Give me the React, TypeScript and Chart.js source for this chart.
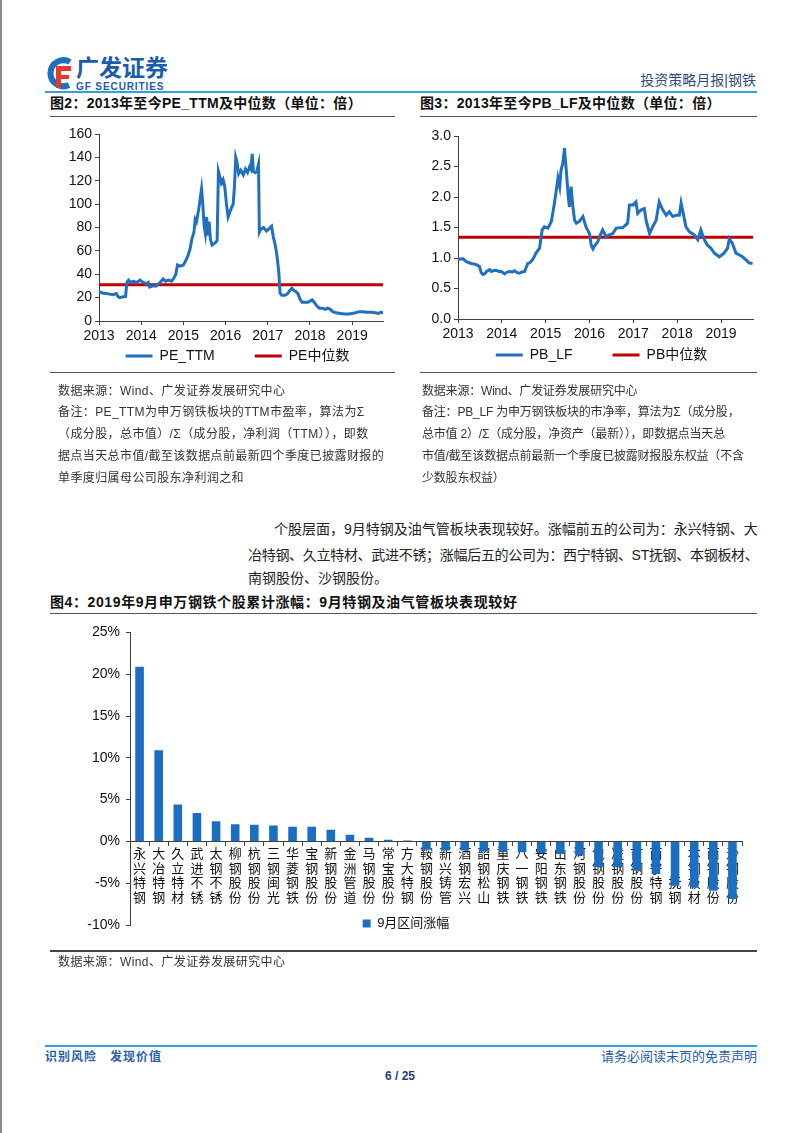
import React, { useEffect, useRef } from 'react';
import { Chart, registerables } from 'chart.js';
Chart.register(...registerables);

const FONT = '"Liberation Sans", "Noto Sans CJK SC", sans-serif';
Chart.defaults.font.family = FONT;
Chart.defaults.color = '#111';

const BLUE = '#1f70c1';
const RED = '#c00000';
const BAR = '#1b6ec2';
const AXIS = '#404040';
const X_MIN = 2013;
const X_MAX = 2019.73;

const yearTicks = [2013, 2014, 2015, 2016, 2017, 2018, 2019];

// PE_TTM (decimal year, value)
const peYears = [
  2013.00, 2013.08, 2013.17, 2013.25, 2013.33, 2013.41, 2013.45, 2013.49, 2013.55, 2013.63,
  2013.66, 2013.70, 2013.75, 2013.81, 2013.90, 2013.97, 2014.05, 2014.12, 2014.17, 2014.20,
  2014.28, 2014.36, 2014.45, 2014.52, 2014.58, 2014.65, 2014.72, 2014.78, 2014.82, 2014.86,
  2014.92, 2015.00, 2015.06, 2015.11, 2015.16, 2015.20, 2015.25, 2015.28, 2015.31, 2015.36,
  2015.40, 2015.43, 2015.46, 2015.49, 2015.52, 2015.55, 2015.58, 2015.61, 2015.64, 2015.68,
  2015.72, 2015.76, 2015.80, 2015.83, 2015.86, 2015.90, 2015.94, 2015.98, 2016.02, 2016.06,
  2016.10, 2016.14, 2016.18, 2016.21, 2016.24, 2016.27, 2016.31, 2016.36, 2016.42, 2016.47,
  2016.52, 2016.57, 2016.60, 2016.63, 2016.66, 2016.70, 2016.74, 2016.78, 2016.80, 2016.84,
  2016.90, 2016.97, 2017.03, 2017.09, 2017.13, 2017.17, 2017.20, 2017.23, 2017.26, 2017.29,
  2017.33, 2017.40, 2017.46, 2017.52, 2017.57, 2017.62, 2017.67, 2017.72, 2017.76, 2017.81,
  2017.88, 2017.95, 2018.00, 2018.05, 2018.10, 2018.16, 2018.22, 2018.30, 2018.36, 2018.42,
  2018.48, 2018.54, 2018.62, 2018.72, 2018.82, 2018.92, 2019.00, 2019.08, 2019.16, 2019.25,
  2019.35, 2019.45, 2019.55, 2019.62, 2019.68, 2019.73,
];
const peValues = [
  25, 24, 23.5, 23, 22.5, 23.5, 21, 20, 20.5, 21,
  33, 35, 33, 34, 33, 35, 33, 32, 33, 29,
  30, 30, 33, 36, 34, 35, 34, 37, 40, 48,
  47, 48, 52, 56, 62, 70, 76, 87, 85, 95,
  105, 113, 100, 82, 75, 89, 73, 85, 70, 65,
  66, 67, 69, 128, 124, 118, 121, 115, 100, 89,
  93, 97, 100, 115, 140, 136, 126, 129, 125, 130,
  127, 132, 130, 143, 128, 127, 128, 134, 76, 79,
  80, 77, 79, 81, 72, 66, 60, 52, 42, 24,
  22, 22, 23, 26, 28, 26, 25, 23, 19, 16,
  16, 16, 17, 18, 16, 13, 11, 11, 10, 11,
  10, 8, 7, 6.5, 6, 6, 6.5, 7, 8, 8,
  7.5, 7.5, 7, 6.5, 7.5, 7,
];
const peMedian = 31;

// PB_LF (decimal year, value)
const pbYears = [
  2013.00, 2013.06, 2013.11, 2013.19, 2013.30, 2013.38, 2013.42, 2013.49, 2013.53, 2013.57,
  2013.61, 2013.65, 2013.72, 2013.76, 2013.80, 2013.87, 2013.93, 2013.99, 2014.06, 2014.12,
  2014.18, 2014.24, 2014.29, 2014.35, 2014.40, 2014.46, 2014.52, 2014.59, 2014.65, 2014.71,
  2014.78, 2014.86, 2014.92, 2014.97, 2015.05, 2015.13, 2015.20, 2015.24, 2015.28, 2015.32,
  2015.35, 2015.39, 2015.43, 2015.45, 2015.47, 2015.51, 2015.54, 2015.58, 2015.62, 2015.66,
  2015.70, 2015.77, 2015.85, 2015.92, 2016.00, 2016.04, 2016.08, 2016.11, 2016.19, 2016.26,
  2016.30, 2016.38, 2016.45, 2016.53, 2016.61, 2016.76, 2016.87, 2016.91, 2016.99, 2017.06,
  2017.10, 2017.18, 2017.25, 2017.29, 2017.37, 2017.44, 2017.52, 2017.59, 2017.67, 2017.75,
  2017.82, 2017.90, 2017.97, 2018.05, 2018.09, 2018.13, 2018.20, 2018.28, 2018.39, 2018.47,
  2018.54, 2018.62, 2018.69, 2018.77, 2018.85, 2018.96, 2019.07, 2019.15, 2019.19, 2019.26,
  2019.34, 2019.42, 2019.49, 2019.57, 2019.64, 2019.72,
];
const pbValues = [
  0.99, 0.98, 0.99, 0.94, 0.91, 0.90, 0.89, 0.86, 0.76, 0.73,
  0.74, 0.78, 0.81, 0.78, 0.79, 0.80, 0.78, 0.78, 0.74, 0.77,
  0.78, 0.77, 0.79, 0.76, 0.75, 0.77, 0.78, 0.91, 0.93, 0.98,
  1.08, 1.16, 1.46, 1.51, 1.49, 1.60, 1.90, 2.10, 2.31, 2.17,
  2.44, 2.55, 2.80, 2.60, 2.44, 2.06, 1.84, 2.17, 1.84, 1.62,
  1.57, 1.60, 1.68, 1.51, 1.40, 1.21, 1.15, 1.19, 1.27, 1.40,
  1.46, 1.35, 1.38, 1.40, 1.49, 1.50, 1.57, 1.87, 1.87, 1.92,
  1.73, 1.79, 1.81, 1.62, 1.40, 1.51, 1.62, 1.92, 1.79, 1.70,
  1.76, 1.68, 1.70, 1.70, 1.90, 1.76, 1.51, 1.43, 1.38, 1.30,
  1.46, 1.30, 1.21, 1.16, 1.08, 1.02, 1.08, 1.16, 1.32, 1.24,
  1.08, 1.05, 1.02, 0.97, 0.92, 0.91,
];
const pbMedian = 1.34;

// Figure 4
const stockNames = [
  '永兴特钢', '大冶特钢', '久立特材', '武进不锈', '太钢不锈', '柳钢股份', '杭钢股份', '三钢闽光',
  '华菱钢铁', '宝钢股份', '新钢股份', '金洲管道', '马钢股份', '常宝股份', '方大特钢', '鞍钢股份',
  '新兴铸管', '酒钢宏兴', '韶钢松山', '重庆钢铁', '八一钢铁', '安阳钢铁', '山东钢铁', '河钢股份',
  '包钢股份', '凌钢股份', '首钢股份', '西宁特钢', 'ST抚钢', '本钢板材', '南钢股份', '沙钢股份',
];
const stockReturns = [
  20.9, 10.9, 4.4, 3.4, 2.4, 2.05, 2.0, 1.9,
  1.75, 1.75, 1.4, 0.8, 0.45, 0.2, 0.12, -1.0,
  -1.1, -1.1, -1.2, -1.2, -1.3, -1.4, -1.5, -1.7,
  -3.1, -3.1, -3.5, -3.9, -5.3, -5.5, -5.9, -6.9,
];
const barSeriesLabel = '9月区间涨幅';

const legendShift = {
  id: 'legendShift',
  afterLayout(chart: any, _args: any, opts: any) {
    const l = chart.legend;
    if (!l) return;
    const dx = opts.dx || 0;
    const dy = opts.dy || 0;
    l.left += dx; l.right += dx; l.top += dy; l.bottom += dy;
  },
};

function lineConfig(p: any): any {
  return {
    type: 'line',
    data: {
      datasets: [
        {
          label: p.label,
          data: p.xs.map((x: number, i: number) => ({ x, y: p.ys[i] })),
          borderColor: BLUE, backgroundColor: BLUE, borderWidth: 3, pointRadius: 0, tension: 0,
        },
        {
          label: p.medLabel,
          data: [{ x: X_MIN, y: p.median }, { x: X_MAX, y: p.median }],
          borderColor: RED, backgroundColor: RED, borderWidth: 3, pointRadius: 0,
        },
      ],
    },
    options: {
      animation: false, responsive: true, maintainAspectRatio: false,
      layout: { padding: { top: p.padTop, right: p.padRight, left: 0, bottom: 0 } },
      plugins: {
        legend: {
          position: 'bottom',
          labels: { usePointStyle: true, pointStyle: 'line', pointStyleWidth: 27, font: { size: 14 }, color: '#111', padding: 40 },
        },
        tooltip: { enabled: false },
        legendShift: { dx: p.dx, dy: p.dy },
      },
      scales: {
        x: {
          type: 'linear', min: X_MIN, max: X_MAX,
          afterBuildTicks: (s: any) => { s.ticks = yearTicks.map((v) => ({ value: v })); },
          afterFit: (s: any) => { s.height = 24; },
          ticks: { font: { size: 14 }, color: '#111', callback: (v: any) => String(v), maxRotation: 0, autoSkip: false, padding: 3 },
          grid: { drawOnChartArea: false, drawTicks: true, tickLength: 4, color: AXIS },
          border: { color: AXIS, width: 1 },
        },
        y: {
          min: 0, max: p.yMax,
          afterFit: (s: any) => { s.width = p.axisW; },
          ticks: { stepSize: p.yStep, font: { size: 14 }, color: '#111', padding: 3, callback: (v: any) => (p.dec ? Number(v).toFixed(1) : String(v)) },
          grid: { drawOnChartArea: false, tickLength: 4, color: AXIS },
          border: { color: AXIS, width: 1 },
        },
      },
    },
    plugins: [legendShift],
  };
}

function barConfig(): any {
  return {
    type: 'bar',
    data: {
      labels: stockNames.map((n) => Array.from(n)),
      datasets: [{ label: barSeriesLabel, data: stockReturns, backgroundColor: BAR, barPercentage: 0.9, categoryPercentage: 0.5 }],
    },
    options: {
      animation: false, responsive: true, maintainAspectRatio: false,
      layout: { padding: { top: 12, right: 18, left: 0, bottom: 0 } },
      plugins: {
        legend: { position: 'bottom', labels: { boxWidth: 8, boxHeight: 8, font: { size: 13 }, color: '#111', padding: 10 } },
        tooltip: { enabled: false },
        legendShift: { dx: 10, dy: -18 },
      },
      scales: {
        x: {
          position: { y: 0 },
          afterFit: (s: any) => { s.height = 0; },
          ticks: { font: { size: 13, lineHeight: 1.12 }, color: '#111', autoSkip: false, maxRotation: 0, padding: 2 },
          grid: { drawOnChartArea: false, tickLength: 4, color: AXIS, offset: true },
          border: { color: AXIS, width: 1 },
        },
        y: {
          min: -10, max: 25,
          afterFit: (s: any) => { s.width = 80; },
          ticks: { stepSize: 5, font: { size: 14 }, color: '#111', padding: 6, callback: (v: any) => v + '%' },
          grid: { drawOnChartArea: false, tickLength: 4, color: AXIS },
          border: { color: AXIS, width: 1 },
        },
      },
    },
    plugins: [legendShift],
  };
}

function ChartBox({ make, left, top, width, height }: any) {
  const ref = useRef<HTMLCanvasElement | null>(null);
  useEffect(() => {
    const chart = new Chart(ref.current as HTMLCanvasElement, make());
    return () => chart.destroy();
  }, []);
  return (
    <div style={{ position: 'absolute', left, top, width, height }}>
      <canvas ref={ref} />
    </div>
  );
}

function T({ x, y, s = 12, w = 400, c = '#222', a = 'left', ls = 0, children }: any) {
  const style: any = {
    position: 'absolute', top: y - s * 0.6, fontSize: s, lineHeight: `${s * 1.2}px`,
    fontWeight: w, color: c, whiteSpace: 'nowrap', letterSpacing: ls, fontFamily: FONT,
  };
  if (a === 'left') style.left = x;
  else if (a === 'right') style.right = 802 - x;
  else { style.left = x; style.transform = 'translateX(-50%)'; }
  return <div style={style}>{children}</div>;
}

function Line({ x, y, w, h = 1, c = '#555' }: any) {
  return <div style={{ position: 'absolute', left: x, top: y, width: w, height: h, background: c }} />;
}

export default function App() {
  const noteL = [
    '数据来源：Wind、广发证券发展研究中心',
    '备注：PE_TTM为申万钢铁板块的TTM市盈率，算法为Σ',
    '（成分股，总市值）/Σ（成分股，净利润（TTM）），即数',
    '据点当天总市值/截至该数据点前最新四个季度已披露财报的',
    '单季度归属母公司股东净利润之和',
  ];
  const noteR = [
    '数据来源：Wind、广发证券发展研究中心',
    '备注：PB_LF 为申万钢铁板块的市净率，算法为Σ（成分股，',
    '总市值 2）/Σ（成分股，净资产（最新）），即数据点当天总',
    '市值/截至该数据点前最新一个季度已披露财报股东权益（不含',
    '少数股东权益）',
  ];
  const noteY = [391, 412, 434, 456, 478];
  return (
    <div style={{ position: 'absolute', left: 0, top: 0, width: 802, height: 1133, background: '#fff', overflow: 'hidden', fontFamily: FONT }}>
      <Line x={0} y={0} w={2} h={1133} c="#8a8a8a" />
      {/* header */}
      <svg style={{ position: 'absolute', left: 45, top: 55 }} width={30} height={36} viewBox="0 0 30 36">
        <path d="M25 7 A13 13 0 1 0 24 30" stroke="#1f6fc0" strokeWidth={6} fill="none" />
        <path d="M11 11 h15 v5 h-10 v4 h8 v4 h-8 v9 h-5 z" fill="#e6392c" />
      </svg>
      <T x={76} y={69} s={23} w={700} c="#1a5cad">广发证券</T>
      <T x={76} y={87} s={10} w={700} c="#1a5cad" ls={0.9}>GF SECURITIES</T>
      <T x={756} y={80} s={14} c="#2a4e7c" a="right">投资策略月报|钢铁</T>
      <Line x={45} y={91} w={712} h={2} c="#2fa2da" />

      <T x={50} y={103} s={14} w={700} c="#111" ls={0.3}>图2：2013年至今PE_TTM及中位数（单位：倍）</T>
      <T x={420} y={103} s={14} w={700} c="#111" ls={0.3}>图3：2013年至今PB_LF及中位数（单位：倍）</T>
      <Line x={50} y={116} w={345} h={1} c="#555" />
      <Line x={420} y={116} w={337} h={1} c="#555" />

      <ChartBox left={50} top={120} width={345} height={289}
        make={() => lineConfig({ xs: peYears, ys: peValues, median: peMedian, label: 'PE_TTM', medLabel: 'PE中位数', yMax: 160, yStep: 20, dec: false, axisW: 49, padTop: 14, padRight: 12, dx: 21, dy: -36 })} />
      <ChartBox left={420} top={120} width={345} height={287}
        make={() => lineConfig({ xs: pbYears, ys: pbValues, median: pbMedian, label: 'PB_LF', medLabel: 'PB中位数', yMax: 3, yStep: 0.5, dec: true, axisW: 38, padTop: 16, padRight: 12, dx: 15, dy: -35 })} />

      <Line x={50} y={372} w={345} h={1} c="#555" />
      <Line x={420} y={372} w={337} h={1} c="#555" />
      {noteL.map((t, i) => <T key={'l' + i} x={58} y={noteY[i]} s={12} ls={0.4} c="#333">{t}</T>)}
      {noteR.map((t, i) => <T key={'r' + i} x={422} y={noteY[i]} s={12} ls={-0.2} c="#333">{t}</T>)}

      <T x={274} y={529} s={14} c="#222" ls={0}>个股层面，9月特钢及油气管板块表现较好。涨幅前五的公司为：永兴特钢、大</T>
      <T x={248} y={555} s={14} c="#222" ls={-0.3}>冶特钢、久立特材、武进不锈；涨幅后五的公司为：西宁特钢、ST抚钢、本钢板材、</T>
      <T x={248} y={578} s={14} c="#222" ls={0}>南钢股份、沙钢股份。</T>

      <T x={50} y={602} s={14} w={700} c="#111" ls={0.6}>图4：2019年9月申万钢铁个股累计涨幅：9月特钢及油气管板块表现较好</T>
      <Line x={50} y={613} w={707} h={1} c="#555" />

      <ChartBox left={50} top={618} width={710} height={340} make={barConfig} />

      <Line x={50} y={950} w={707} h={2} c="#444" />
      <T x={58} y={962} s={12} ls={0.4} c="#333">数据来源：Wind、广发证券发展研究中心</T>

      <Line x={45} y={1045} w={712} h={2} c="#2fa2da" />
      <T x={45} y={1057} s={12} w={700} c="#2a5fa8" ls={1}>识别风险　发现价值</T>
      <T x={757} y={1057} s={13} c="#1f5ba6" a="right">请务必阅读末页的免责声明</T>
      <T x={400} y={1076} s={12} w={700} c="#1f3f7a" a="center">6 / 25</T>
    </div>
  );
}
